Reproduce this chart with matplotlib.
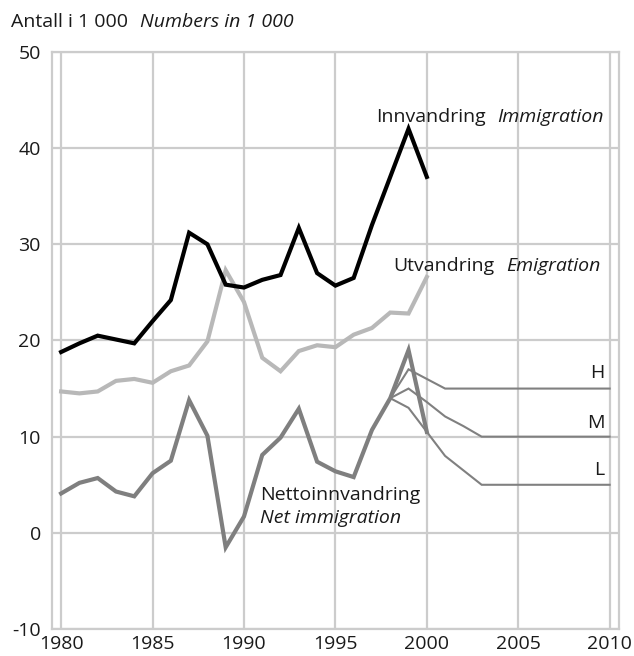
import matplotlib
matplotlib.use("Agg")
import matplotlib.pyplot as plt

plt.rcParams['font.family'] = ['Open Sans', 'DejaVu Sans']
plt.rcParams['axes.unicode_minus'] = False

years = list(range(1980, 2001))
immigration = [18.8, 19.7, 20.5, 20.1, 19.7, 22.0, 24.2, 31.2, 30.0, 25.8, 25.5,
               26.3, 26.8, 31.7, 27.0, 25.7, 26.5, 32.0, 37.0, 42.0, 37.0]
emigration = [14.7, 14.5, 14.7, 15.8, 16.0, 15.6, 16.8, 17.4, 19.9, 27.3, 24.0,
              18.2, 16.8, 18.9, 19.5, 19.3, 20.6, 21.3, 22.9, 22.8, 26.6]
net = [4.1, 5.2, 5.7, 4.3, 3.8, 6.2, 7.5, 13.8, 10.1, -1.5, 1.7,
       8.1, 9.9, 12.9, 7.4, 6.4, 5.8, 10.7, 14.0, 19.0, 10.5]

proj_years = list(range(1998, 2011))
proj_high = [14, 17, 16, 15, 15, 15, 15, 15, 15, 15, 15, 15, 15]
proj_mid = [14, 15, 13.6, 12.1, 11.1, 10, 10, 10, 10, 10, 10, 10, 10]
proj_low = [14, 13, 10.5, 8, 6.5, 5, 5, 5, 5, 5, 5, 5, 5]

fig = plt.figure(figsize=(6.34, 6.56), dpi=100)
ax = fig.add_axes([0.082, 0.041, 0.894, 0.880])

grid_col = '#cccccc'
ax.set_xlim(1979.5, 2010.5)
ax.set_ylim(-10, 50)
ax.set_xticks(range(1980, 2011, 5))
ax.set_yticks(range(-10, 51, 10))
ax.grid(True, color=grid_col, linewidth=1.6)
ax.set_axisbelow(True)
for s in ax.spines.values():
    s.set_color(grid_col)
    s.set_linewidth(1.6)
fs = 14
txt_col = '#1a1a1a'
ax.tick_params(length=0, labelsize=fs, colors=txt_col)
ax.tick_params(axis='y', pad=8)
ax.tick_params(axis='x', pad=4)

# projections
for vals in (proj_high, proj_mid, proj_low):
    ax.plot(proj_years, vals, color='#808080', linewidth=1.5, solid_joinstyle='miter')

ax.plot(years, emigration, color='#b8b8b8', linewidth=3.0, solid_joinstyle='miter')
ax.plot(years, net, color='#7f7f7f', linewidth=3.0, solid_joinstyle='miter')
ax.plot(years, immigration, color='#000000', linewidth=3.0, solid_joinstyle='miter')


def two_part(x, y, regular, italic, transform, ha='right', gap=13):
    # regular text followed by an italic part
    fig.canvas.draw()
    r = fig.canvas.get_renderer()
    if ha == 'right':
        t2 = fig.text(x, y, italic, style='italic', fontsize=fs, color=txt_col,
                      ha='right', va='center', transform=transform)
        bb = t2.get_window_extent(r)
        fig.text(bb.x0 - gap, bb.y0 + bb.height / 2, regular, fontsize=fs, color=txt_col,
                 ha='right', va='center', transform=None)
    else:
        t1 = fig.text(x, y, regular, fontsize=fs, color=txt_col,
                      ha='left', va='center', transform=transform)
        bb = t1.get_window_extent(r)
        fig.text(bb.x1 + gap, bb.y0 + bb.height / 2, italic, style='italic', fontsize=fs,
                 color=txt_col, ha='left', va='center', transform=None)


two_part(0.017, 0.966, 'Antall i 1 000', 'Numbers in 1 000', fig.transFigure, ha='left', gap=12)
two_part(2009.7, 43.2, 'Innvandring', 'Immigration', ax.transData, gap=12)
two_part(2009.5, 27.7, 'Utvandring', 'Emigration', ax.transData, gap=12)

ax.text(1990.9, 3.9, 'Nettoinnvandring', fontsize=fs, color=txt_col, va='center')
ax.text(1990.9, 1.5, 'Net immigration', fontsize=fs, color=txt_col, va='center', style='italic')

ax.text(2009.7, 16.6, 'H', fontsize=fs, color=txt_col, ha='right', va='center')
ax.text(2009.7, 11.4, 'M', fontsize=fs, color=txt_col, ha='right', va='center')
ax.text(2009.7, 6.5, 'L', fontsize=fs, color=txt_col, ha='right', va='center')

fig.savefig('out.png', dpi=100)
